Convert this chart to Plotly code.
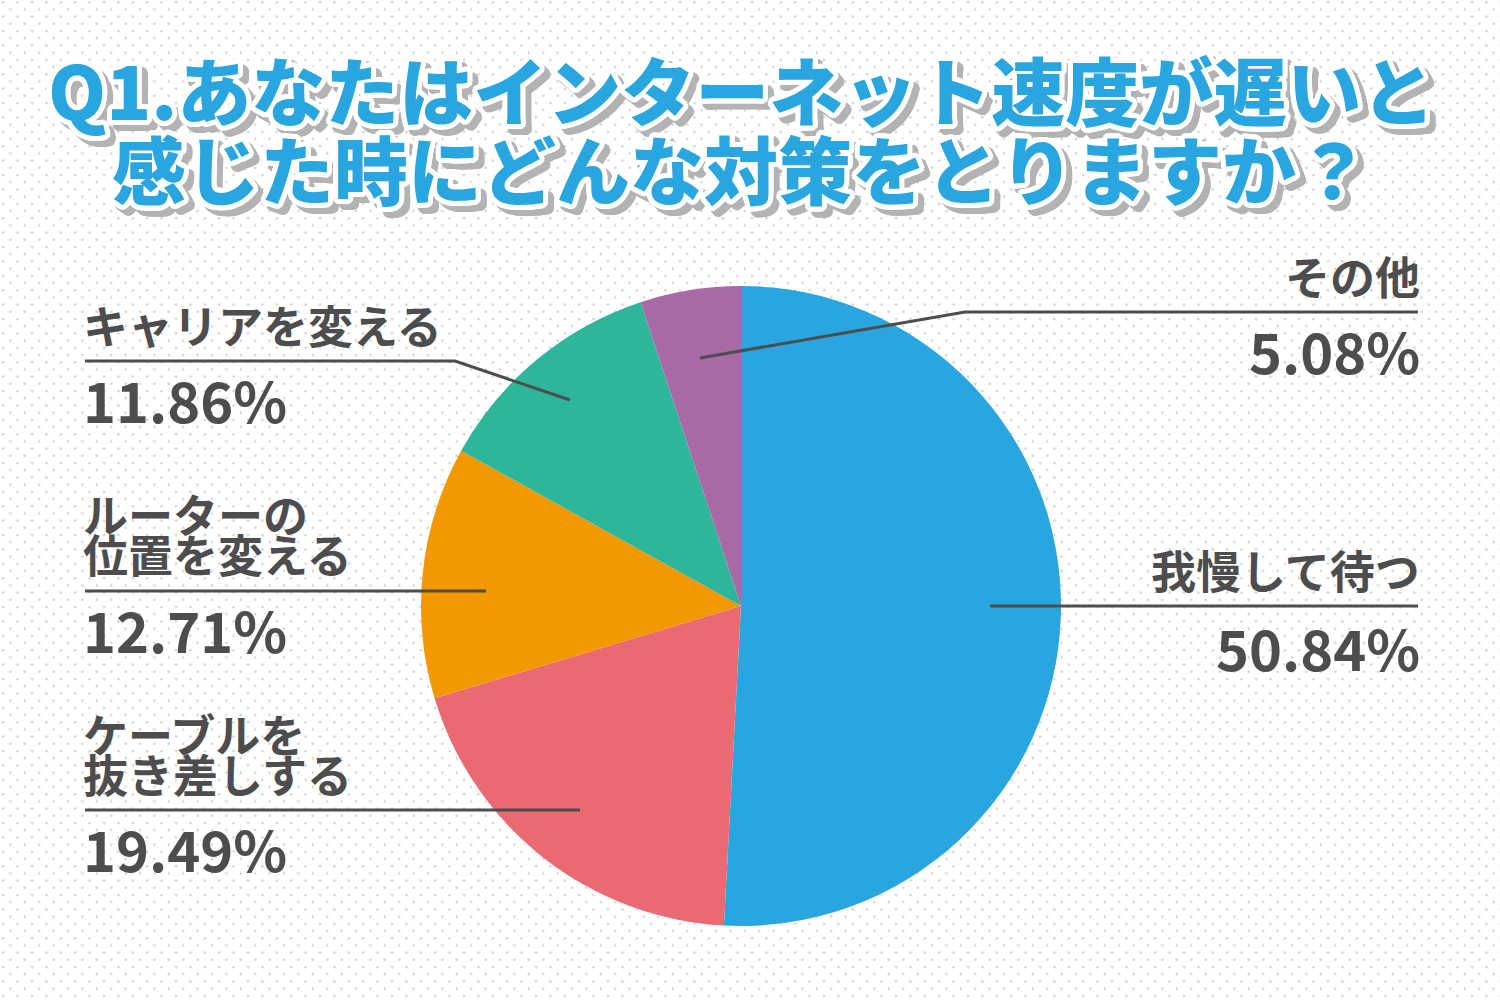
import base64
import math
import plotly.graph_objects as go

# ---------------- data ----------------
categories = ["我慢して待つ", "ケーブルを抜き差しする", "ルーターの位置を変える", "キャリアを変える", "その他"]
values = [50.84, 19.49, 12.71, 11.86, 5.08]
label_lines = [["我慢して待つ"], ["ケーブルを", "抜き差しする"], ["ルーターの", "位置を変える"], ["キャリアを変える"], ["その他"]]
pct_labels = ["50.84%", "19.49%", "12.71%", "11.86%", "5.08%"]
colors = ["#29a6df", "#ea6a73", "#f39800", "#2db699", "#a86aa6"]
title_lines = ["Q1.あなたはインターネット速度が遅いと", "感じた時にどんな対策をとりますか？"]

# ---------------- layout constants (pixels) ----------------
W, H = 1500, 1000
CX, CY, R = 741, 606, 320
TEXT = "#4d4d4d"
FONT = "Noto Sans CJK JP"
PAD = 4  # annotation inner padding compensation

# per-label placement: side, edge x, name line centres, rule y, pct centre, leader path
placement = [
    dict(side="right", x=1418, names=[569], rule=606, pct=646, leader=[(1418, 606), (990, 606)]),
    dict(side="left", x=85, names=[733, 773], rule=810, pct=847, leader=[(85, 810), (580, 810)]),
    dict(side="left", x=85, names=[513, 553], rule=591, pct=628, leader=[(85, 591), (486, 591)]),
    dict(side="left", x=85, names=[325], rule=361, pct=398, leader=[(85, 361), (455, 361), (570, 400)]),
    dict(side="right", x=1418, names=[275], rule=312, pct=349, leader=[(1418, 312), (965, 312), (700, 358)]),
]


def px(x):
    return x / W


def py(y):
    return 1 - y / H


# dotted background as an SVG pattern
svg = (
    f'<svg xmlns="http://www.w3.org/2000/svg" width="{W}" height="{H}">'
    '<defs><pattern id="d" x="2" y="1" width="14.4" height="14.4" patternUnits="userSpaceOnUse">'
    '<circle cx="1.2" cy="1.2" r="1.2" fill="#cdcdcd"/>'
    '<circle cx="8.4" cy="8.4" r="1.2" fill="#cdcdcd"/>'
    '</pattern></defs>'
    f'<rect width="{W}" height="{H}" fill="#ffffff"/>'
    f'<rect width="{W}" height="{H}" fill="url(#d)"/></svg>'
)
bg_src = "data:image/svg+xml;base64," + base64.b64encode(svg.encode()).decode()

fig = go.Figure()
fig.add_trace(go.Pie(
    labels=categories,
    values=values,
    sort=False,
    direction="clockwise",
    rotation=0,
    marker=dict(colors=colors, line=dict(width=0)),
    textinfo="none",
    hoverinfo="label+percent",
    showlegend=False,
    domain=dict(x=[px(CX - R), px(CX + R)], y=[py(CY + R), py(CY - R)]),
))

annotations = []
shapes = []

# title with white outline and grey drop shadow
white = []
grey = []
for k in range(20):
    a = 2 * math.pi * k / 20
    dx, dy = 5 * math.cos(a), 5 * math.sin(a)
    white.append(f"{dx:.1f}px {dy:.1f}px 0 #ffffff")
    grey.append(f"{dx + 6:.1f}px {dy + 6:.1f}px 0 #b3b3b3")
shadow = ", ".join(white + grey)
for line, yc in zip(title_lines, [88, 166]):
    annotations.append(dict(
        text=line, x=px(741), y=py(yc), xref="paper", yref="paper",
        xanchor="center", yanchor="middle", showarrow=False,
        font=dict(family=FONT, size=74, color="#29a6df", weight=900, shadow=shadow),
    ))

for names, pct, pl in zip(label_lines, pct_labels, placement):
    anchor = "left" if pl["side"] == "left" else "right"
    xt = pl["x"] - PAD if anchor == "left" else pl["x"] + PAD
    for nm, yc in zip(names, pl["names"]):
        annotations.append(dict(
            text=nm, x=px(xt), y=py(yc), xref="paper", yref="paper",
            xanchor=anchor, yanchor="middle", showarrow=False,
            font=dict(family=FONT, size=45, color=TEXT, weight=700),
        ))
    annotations.append(dict(
        text=pct, x=px(xt), y=py(pl["pct"]), xref="paper", yref="paper",
        xanchor=anchor, yanchor="middle", showarrow=False,
        font=dict(family=FONT, size=56, color=TEXT, weight=700),
    ))
    pts = pl["leader"]
    path = "M " + " L ".join(f"{px(x):.5f},{py(y):.5f}" for x, y in pts)
    shapes.append(dict(type="path", path=path, xref="paper", yref="paper",
                       line=dict(color=TEXT, width=3)))

fig.update_layout(
    width=W, height=H,
    margin=dict(l=0, r=0, t=0, b=0),
    paper_bgcolor="#ffffff",
    plot_bgcolor="rgba(0,0,0,0)",
    images=[dict(source=bg_src, xref="paper", yref="paper", x=0, y=1,
                 sizex=1, sizey=1, xanchor="left", yanchor="top",
                 sizing="stretch", layer="below")],
    annotations=annotations,
    shapes=shapes,
)

fig.write_html(
    "out.html",
    config={"displayModeBar": False},
    post_script="document.body.style.margin='0';document.body.style.overflow='hidden';",
)
